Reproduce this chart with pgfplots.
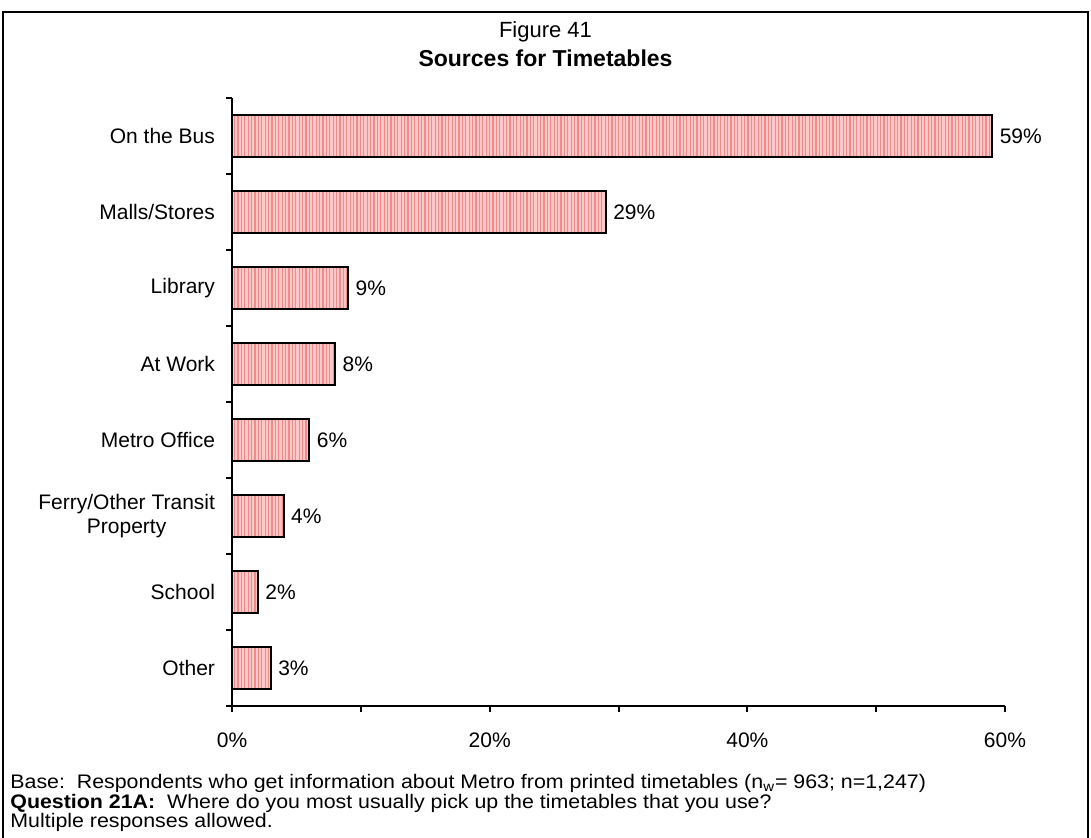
\documentclass[border=0pt]{standalone}
\usepackage{fontspec}
\setmainfont{Liberation Sans}
\newfontfamily\footfont[FakeStretch=1.09]{Liberation Sans}
\usepackage{pgfplots}
\pgfplotsset{compat=1.18}
\usepackage{pgfplotstable}
\usetikzlibrary{patterns.meta}
\definecolor{barfill}{RGB}{255,200,200}
\definecolor{barline}{RGB}{238,140,140}

\pgfplotstableread{
y val
7 59
6 29
5 9
4 8
3 6
2 4
1 2
0 3
}\datatable

\begin{document}
\begin{tikzpicture}[x=0.5pt,y=0.5pt]
\path[use as bounding box] (0,0) rectangle (1091,838);
\draw[line width=1pt] (3,0) -- (3,826) -- (1088,826) -- (1088,0);
\node[font=\fontsize{11}{13}\selectfont] at (545.5,806) {Figure 41};
\node[font=\fontsize{11.5}{13}\selectfont\bfseries] at (545.5,780) {Sources for Timetables};
\begin{axis}[
  at={(116pt,66pt)}, anchor=south west,
  scale only axis, width=386.5pt, height=304pt,
  xmin=0, xmax=60, ymin=-0.5, ymax=7.5,
  axis x line*=bottom, axis y line*=left,
  axis line style={line width=1pt, -},
  xtick={0,20,40,60}, xticklabels={0\%,20\%,40\%,60\%},
  minor xtick={10,30,50},
  ytick={0,...,7},
  yticklabels={Other,School,{Ferry/Other Transit\\Property},Metro Office,At Work,Library,Malls/Stores,On the Bus},
  minor ytick={-0.5,0.5,...,7.5},
  major tick length=0pt,
  minor tick length=3pt,
  xtick style={line width=1pt, black},
  ytick style={line width=1pt, black},
  tick align=outside,
  extra x ticks={0,20,40,60}, extra x tick labels={},
  extra x tick style={major tick length=3pt},
  xticklabel style={font=\fontsize{10.5}{12}\selectfont, yshift=-10pt},
  yticklabel style={font=\fontsize{10.5}{12}\selectfont, align=center, xshift=-5pt},
  xbar, bar width=21pt,
  nodes near coords={\pgfmathprintnumber[assume math mode=true]{\pgfplotspointmeta}\%},
  point meta=x,
  nodes near coords style={font=\fontsize{10.5}{12}\selectfont, anchor=west},
  clip=false,
]
\addplot[draw=black, line width=1pt, fill=barfill,
  postaction={pattern={Lines[angle=90,distance=1.7pt,line width=0.6pt]}, pattern color=barline}]
  table[x=val, y=y] {\datatable};
\end{axis}
\node[anchor=base west, inner sep=0pt, font=\footfont\fontsize{9.8}{11}\selectfont] at (10,49) {Base:\ \ Respondents who get information about Metro from printed timetables (n\textsubscript{w}= 963; n=1,247)};
\node[anchor=base west, inner sep=0pt, font=\footfont\fontsize{9.8}{11}\selectfont] at (10,29) {\textbf{Question 21A:}\ \ Where do you most usually pick up the timetables that you use?};
\node[anchor=base west, inner sep=0pt, font=\footfont\fontsize{9.8}{11}\selectfont] at (10,10) {Multiple responses allowed.};
\end{tikzpicture}
\end{document}
